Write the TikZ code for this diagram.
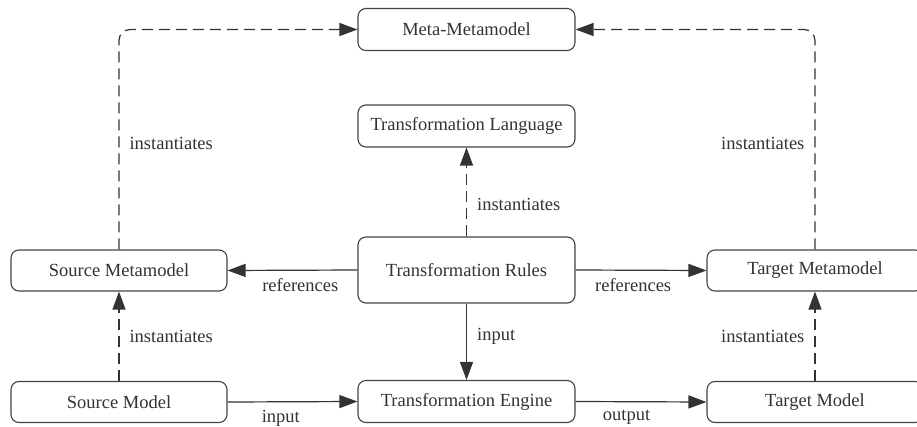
\documentclass[tikz,border=0pt]{standalone}
\usepackage{fontspec}
\setmainfont{Liberation Serif}
\usetikzlibrary{arrows.meta}
\definecolor{ink}{HTML}{333333}
\definecolor{frame}{HTML}{444444}
\tikzset{
  box/.style={draw=frame, line width=1.1pt, rounded corners=8pt, fill=white,
    text=ink, inner sep=0pt, minimum width=217pt, minimum height=42pt,
    font=\fontsize{18.5}{22}\selectfont},
  conn/.style={draw=ink, line width=1.2pt,
    -{Triangle[length=18pt,width=13pt]}},
  inst/.style={conn, dash pattern=on 11pt off 6pt},
  lbl/.style={text=ink, inner sep=0pt, font=\fontsize{18.5}{22}\selectfont},
  below lbl/.style={lbl, anchor=north, yshift=-8pt},
  right lbl/.style={lbl, anchor=west, xshift=10pt},
  left lbl/.style={lbl, anchor=east, xshift=-10pt},
}
\begin{document}
\begin{tikzpicture}[x=1pt, y=-1pt]
  \useasboundingbox (0,0) rectangle (917,427);
  \clip (0,0) rectangle (917,427);
  \fill[white] (0,0) rectangle (917,427);

  % models and metamodels
  \node[box] (meta)   at (466.5, 29.5) {Meta-Metamodel};
  \node[box] (lang)   at (466.5, 126)  {Transformation Language};
  \node[box, minimum height=66pt] (rules) at (466.5, 270) {Transformation Rules};
  \node[box] (engine) at (466.5, 401.5) {Transformation Engine};
  \node[box, minimum width=216pt, minimum height=41pt] (srcmeta)  at (119, 270.5) {Source Metamodel};
  \node[box, minimum width=216pt, minimum height=41pt] (srcmodel) at (119, 402)   {Source Model};
  \node[box, minimum width=216pt, minimum height=41pt] (tgtmeta)  at (815, 270.5) {Target Metamodel};
  \node[box, minimum width=216pt, minimum height=41pt] (tgtmodel) at (815, 402)   {Target Model};

  % instantiation relations
  \draw[inst, rounded corners=11pt] (srcmeta.north) |- (meta.west)
    node[right lbl, pos=0.24] {instantiates};
  \draw[inst, rounded corners=11pt] (tgtmeta.north) |- (meta.east)
    node[left lbl, pos=0.24] {instantiates};
  \draw[inst] (rules.north) -- (lang.south)
    node[right lbl, pos=0.36] {instantiates};
  \draw[inst] (srcmodel.north) -- (srcmeta.south)
    node[right lbl, midway] {instantiates};
  \draw[inst] (tgtmodel.north) -- (tgtmeta.south)
    node[left lbl, midway] {instantiates};

  % references and data flow
  \draw[conn] (rules.west) -- (srcmeta.east)
    node[below lbl, pos=0.44] {references};
  \draw[conn] (rules.east) -- (tgtmeta.west)
    node[below lbl, pos=0.44] {references};
  \draw[conn] (rules.south) -- (engine.north)
    node[right lbl, pos=0.43] {input};
  \draw[conn] (srcmodel.east) -- (engine.west)
    node[below lbl, pos=0.41] {input};
  \draw[conn] (engine.east) -- (tgtmodel.west)
    node[below lbl, pos=0.39] {output};
\end{tikzpicture}
\end{document}
